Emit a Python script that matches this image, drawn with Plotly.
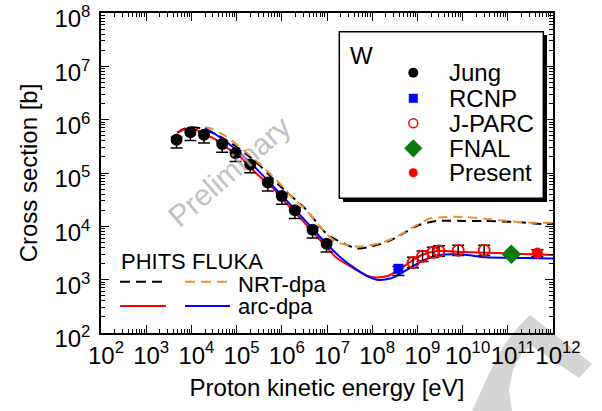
import plotly.graph_objects as go

FONT = "Liberation Sans, Arial, sans-serif"

# ---------------- data ----------------
jung_E = [4.7e3, 9.5e3, 1.9e4, 4.8e4, 9.5e4, 2.0e5, 4.9e5, 1.0e6, 1.95e6, 4.8e6, 9.8e6]
jung_xs = [4.2e5, 5.8e5, 5.2e5, 3.5e5, 2.35e5, 1.45e5, 6.6e4, 3.7e4, 2.0e4, 8.6e3, 4.7e3]

rcnp_E = [3.8e8]
rcnp_xs = [1.6e3]

jparc_E = [8.0e8, 1.3e9, 2.2e9, 3.0e9, 8.0e9, 3.0e10]
jparc_xs = [2.1e3, 2.75e3, 3.25e3, 3.45e3, 3.55e3, 3.55e3]

fnal_E = [1.2e11]
fnal_xs = [3.0e3]

present_E = [4.5e11]
present_xs = [3.15e3]

phits_arc_E = [4.9e3, 7.0e3, 9.3e3, 1.26e4, 1.8e4, 3.2e4, 5.1e4, 1.2e5, 2.75e5, 7.0e5,
               1.0e6, 2.0e6, 5.0e6, 1.0e7, 1.6e7, 3.2e7, 8.0e7, 1.26e8, 2.2e8, 3.7e8,
               6.9e8, 1.26e9, 2.7e9, 1.0e10, 5.6e10, 3.2e11, 1.0e12]
phits_arc_xs = [5.6e5, 6.6e5, 6.9e5, 6.5e5, 5.5e5, 4.4e5, 3.3e5, 2.0e5, 9.8e4, 4.8e4,
                3.3e4, 1.8e4, 7.6e3, 4.0e3, 2.6e3, 1.8e3, 1.17e3, 1.1e3, 1.17e3, 1.5e3,
                2.15e3, 2.9e3, 3.45e3, 3.3e3, 3.15e3, 3.0e3, 2.9e3]

fluka_arc_E = [2.0e4, 3.2e4, 6.3e4, 1.26e5, 3.2e5, 1.0e6, 3.2e6, 1.0e7, 2.0e7, 4.0e7,
               8.0e7, 1.26e8, 2.5e8, 4.0e8, 1.0e9, 2.0e9, 4.0e9, 1.0e10, 3.2e10, 1.0e11, 1.0e12]
fluka_arc_xs = [6.9e5, 5.5e5, 3.7e5, 2.25e5, 1.05e5, 3.8e4, 1.32e4, 4.6e3, 2.6e3, 1.66e3,
                1.15e3, 1.0e3, 1.05e3, 1.26e3, 2.0e3, 2.63e3, 2.95e3, 2.95e3, 2.63e3, 2.57e3, 2.5e3]

phits_nrt_E = [4.9e3, 7.0e3, 1.0e4, 1.6e4, 3.2e4, 6.3e4, 1.26e5, 3.2e5, 1.0e6, 3.2e6,
               1.0e7, 2.3e7, 4.6e7, 9.0e7, 2.1e8, 4.9e8, 1.05e9, 2.7e9, 1.05e10, 3.2e10,
               1.6e11, 6.2e11, 1.0e12]
phits_nrt_xs = [5.75e5, 6.8e5, 7.2e5, 6.9e5, 5.5e5, 4.0e5, 2.7e5, 1.4e5, 5.3e4, 2.2e4,
                7.2e3, 4.8e3, 3.85e3, 4.15e3, 5.1e3, 7.4e3, 1.05e4, 1.26e4, 1.26e4, 1.26e4,
                1.2e4, 1.1e4, 1.12e4]

fluka_nrt_E = [2.0e4, 2.6e4, 6.0e4, 1.4e5, 3.2e5, 1.0e6, 1.8e6, 3.2e6, 1.0e7, 1.6e7,
               4.2e7, 6.9e7, 1.8e8, 4.1e8, 9.5e8, 1.9e9, 1.05e10, 5.6e10, 3.2e11, 1.0e12]
fluka_nrt_xs = [7.2e5, 6.9e5, 4.8e5, 2.7e5, 1.5e5, 5.8e4, 3.3e4, 2.15e4, 7.1e3, 5.1e3,
                4.2e3, 4.25e3, 5.1e3, 6.9e3, 1.05e4, 1.4e4, 1.5e4, 1.32e4, 1.17e4, 1.17e4]

x_tick_exp = list(range(2, 13))
y_tick_exp = list(range(2, 9))
legend_names = ["Jung", "RCNP", "J-PARC", "FNAL", "Present"]

# ---------------- layout geometry ----------------
W, H = 602, 411
PL, PR, PT, PB = 101, 553, 13, 333


def fx(px):
    return (px - PL) / (PR - PL)


def fy(py):
    return (PB - py) / (PB - PT)


RED = "#ff0000"
BLUE = "#0000ff"
ORANGE = "#eb9238"
GREEN = "#0a7a0a"

fig = go.Figure()

line_kw = dict(mode="lines", line_shape="spline", hoverinfo="skip", showlegend=False)
fig.add_trace(go.Scatter(x=phits_nrt_E, y=phits_nrt_xs, line=dict(color="black", width=2, dash="9px,6px", smoothing=0.8), **line_kw))
fig.add_trace(go.Scatter(x=fluka_nrt_E, y=fluka_nrt_xs, line=dict(color=ORANGE, width=2, dash="9px,6px", smoothing=0.8), **line_kw))
fig.add_trace(go.Scatter(x=phits_arc_E, y=phits_arc_xs, line=dict(color=RED, width=2, smoothing=0.8), **line_kw))
fig.add_trace(go.Scatter(x=fluka_arc_E, y=fluka_arc_xs, line=dict(color=BLUE, width=2, smoothing=0.8), **line_kw))

err_kw = dict(type="percent", symmetric=False, color="black", thickness=1.5, width=6)
fig.add_trace(go.Scatter(x=jung_E, y=jung_xs, mode="markers", showlegend=False,
                         marker=dict(symbol="circle", size=12, color="black"),
                         error_y=dict(value=12, valueminus=30, **err_kw)))
fig.add_trace(go.Scatter(x=rcnp_E, y=rcnp_xs, mode="markers", showlegend=False,
                         marker=dict(symbol="square", size=10, color=BLUE),
                         error_y=dict(value=10, valueminus=25, **err_kw)))
fig.add_trace(go.Scatter(x=jparc_E, y=jparc_xs, mode="markers", showlegend=False,
                         marker=dict(symbol="circle-open", size=11, color=RED, line=dict(width=1.8)),
                         error_y=dict(value=25, valueminus=20, **err_kw)))
fig.add_trace(go.Scatter(x=fnal_E, y=fnal_xs, mode="markers", showlegend=False,
                         marker=dict(symbol="diamond", size=15, color=GREEN),
                         error_y=dict(value=15, valueminus=15, **err_kw)))
fig.add_trace(go.Scatter(x=present_E, y=present_xs, mode="markers", showlegend=False,
                         marker=dict(symbol="circle", size=11, color=RED),
                         error_y=dict(value=15, valueminus=15, **err_kw)))

# ---------------- hand-made legends on an overlay axis ----------------
row_y = [fy(72.7), fy(98.3), fy(123.3), fy(148.3), fy(172.7)]
mk_x = fx(413.3)
leg_styles = [
    dict(symbol="circle", size=10, color="black"),
    dict(symbol="square", size=9, color=BLUE),
    dict(symbol="circle-open", size=9, color=RED, line=dict(width=1.5)),
    dict(symbol="diamond", size=14, color=GREEN),
    dict(symbol="circle", size=9, color=RED),
]
for yy, st in zip(row_y, leg_styles):
    fig.add_trace(go.Scatter(x=[mk_x], y=[yy], xaxis="x2", yaxis="y2", mode="markers",
                             marker=st, showlegend=False, hoverinfo="skip"))

samples = [
    (fx(120), fx(165), fy(281.7), dict(color="black", width=2, dash="10px,6px")),
    (fx(185), fx(230), fy(281.7), dict(color=ORANGE, width=2, dash="10px,6px")),
    (fx(120), fx(166), fy(306), dict(color=RED, width=2)),
    (fx(185), fx(230), fy(306), dict(color=BLUE, width=2)),
]
for x0, x1, yy, ln in samples:
    fig.add_trace(go.Scatter(x=[x0, x1], y=[yy, yy], xaxis="x2", yaxis="y2", mode="lines",
                             line=ln, showlegend=False, hoverinfo="skip"))

annotations = []
for yy, name in zip(row_y, legend_names):
    annotations.append(dict(x=fx(446.7), y=yy, xref="x2", yref="y2", text=name, showarrow=False,
                            xanchor="left", yanchor="middle", font=dict(size=24, color="black", family=FONT)))
annotations.append(dict(x=fx(361.7), y=fy(55), xref="x2", yref="y2", text="W", showarrow=False,
                        xanchor="center", yanchor="middle", font=dict(size=24, color="black", family=FONT)))
annotations.append(dict(x=fx(119), y=fy(261.7), xref="x2", yref="y2", text="PHITS FLUKA", showarrow=False,
                        xanchor="left", yanchor="middle", font=dict(size=22, color="black", family=FONT)))
annotations.append(dict(x=fx(236), y=fy(284), xref="x2", yref="y2", text="NRT-dpa", showarrow=False,
                        xanchor="left", yanchor="middle", font=dict(size=22, color="black", family=FONT)))
annotations.append(dict(x=fx(236), y=fy(306), xref="x2", yref="y2", text="arc-dpa", showarrow=False,
                        xanchor="left", yanchor="middle", font=dict(size=22, color="black", family=FONT)))
annotations.append(dict(x=fx(229), y=fy(171), xref="paper", yref="paper", text="Preliminary", showarrow=False,
                        xanchor="center", yanchor="middle",
                        textangle=-41, font=dict(size=30, color="rgba(175,175,175,0.8)", family=FONT)))

shapes = []
# legend box shadow + box
shapes.append(dict(type="rect", xref="x2", yref="y2", x0=fx(343), x1=fx(547), y0=fy(202), y1=fy(35),
                   fillcolor="black", line=dict(width=0), layer="below"))
shapes.append(dict(type="rect", xref="x2", yref="y2", x0=fx(339.3), x1=fx(543.3), y0=fy(198.3), y1=fy(31.7),
                   fillcolor="white", line=dict(color="black", width=1.5), layer="below"))
# gray chevron watermark (paper coords are relative to the plot area)
chev = [(472, 411), (486, 380), (504, 345), (519, 326), (530, 315), (592, 364), (579, 378),
        (532, 346), (522, 353), (513, 370), (509, 390), (512, 411)]
path = "M " + " L ".join("%.4f,%.4f" % (fx(a), fy(b)) for a, b in chev) + " Z"
shapes.append(dict(type="path", xref="paper", yref="paper", path=path, fillcolor="#d4d4d4",
                   line=dict(width=0), layer="below"))

minor_x = [m * 10 ** e for e in range(2, 12) for m in range(2, 10)]
minor_y = [m * 10 ** e for e in range(2, 8) for m in range(2, 10)]

axis_common = dict(type="log", showgrid=False, zeroline=False, showline=True, linecolor="black",
                   linewidth=1.5, mirror="allticks", ticks="inside", ticklen=8, tickwidth=1.2,
                   tickcolor="black", tickfont=dict(size=24, color="black", family=FONT),
                   automargin=False, ticklabeloverflow="allow")

fig.update_layout(
    width=W, height=H,
    margin=dict(l=PL, r=W - PR, t=PT, b=H - PB),
    paper_bgcolor="white", plot_bgcolor="white",
    font=dict(family=FONT, color="black"),
    showlegend=False,
    xaxis=dict(range=[2, 12], tickmode="array", tickvals=[10 ** e for e in x_tick_exp],
               ticktext=["10<sup>%d</sup>" % e for e in x_tick_exp], tickangle=0, ticklabelshift=5,
               minor=dict(tickmode="array", tickvals=minor_x, ticks="inside", ticklen=4, tickwidth=1, tickcolor="black"),
               title=dict(text="Proton kinetic energy [eV]", font=dict(size=24, family=FONT, color="black"), standoff=12),
               **axis_common),
    yaxis=dict(range=[2, 8], tickmode="array", tickvals=[10 ** e for e in y_tick_exp],
               ticktext=["10<sup>%d</sup>" % e for e in y_tick_exp], ticklabelstandoff=4, ticklabelshift=6,
               minor=dict(tickmode="array", tickvals=minor_y, ticks="inside", ticklen=4, tickwidth=1, tickcolor="black"),
               title=dict(text="Cross section [b]", font=dict(size=24, family=FONT, color="black"), standoff=10),
               **axis_common),
    xaxis2=dict(overlaying="x", range=[0, 1], visible=False, fixedrange=True),
    yaxis2=dict(overlaying="y", range=[0, 1], visible=False, fixedrange=True),
    annotations=annotations,
    shapes=shapes,
)

fig.write_html("out.html", config={"displayModeBar": False},
               post_script="document.body.style.margin='0';document.body.style.overflow='hidden';")
